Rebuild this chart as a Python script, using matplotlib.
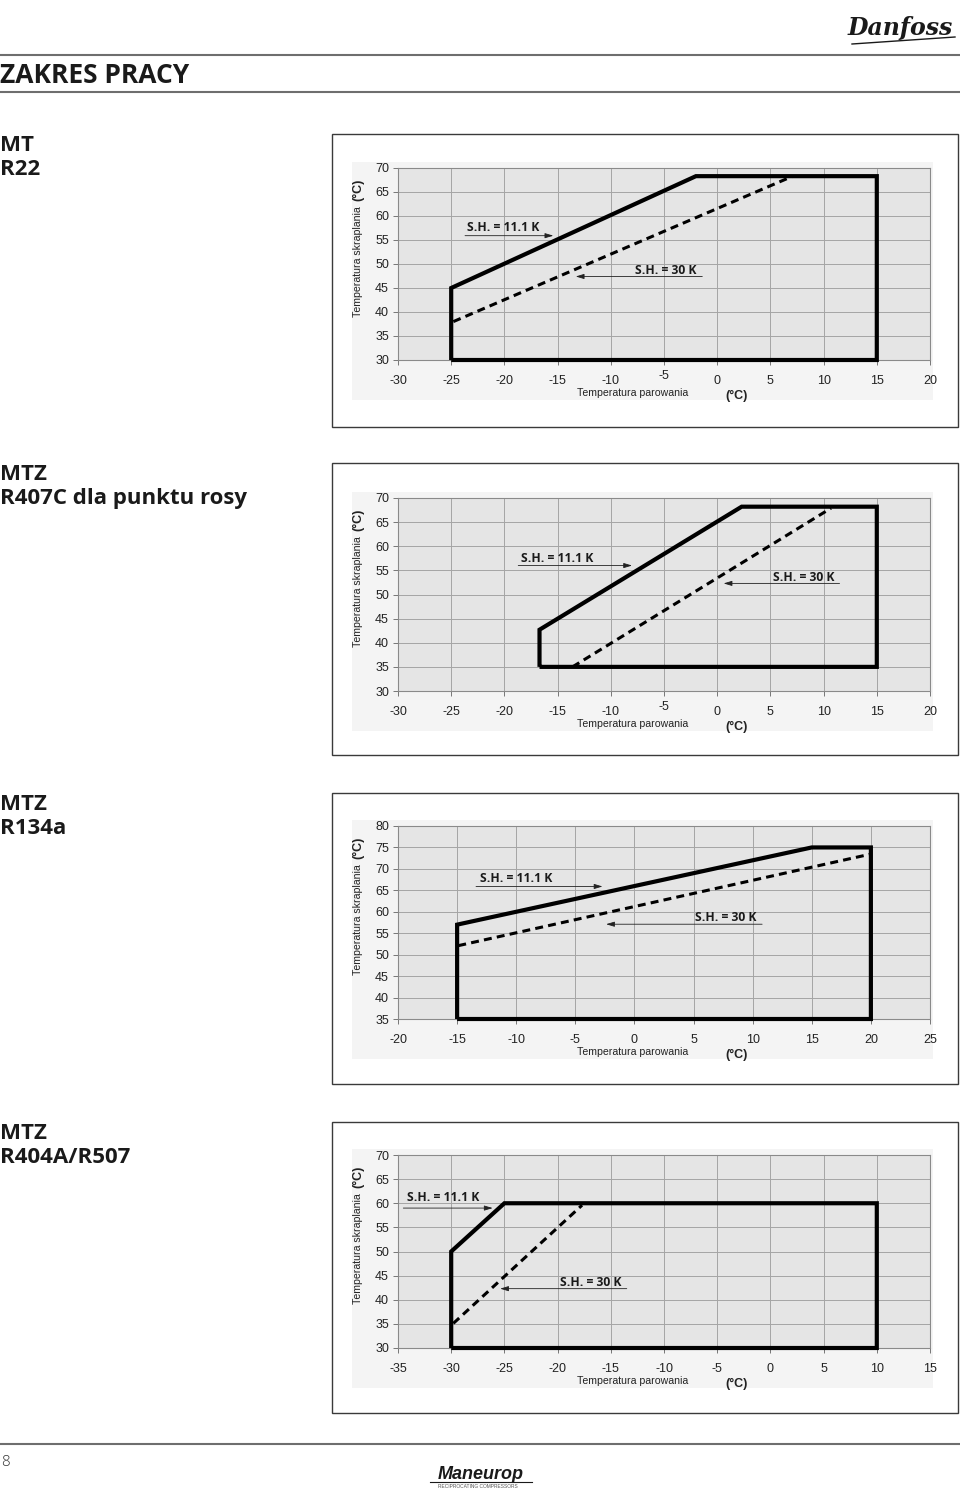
import matplotlib
matplotlib.use("Agg")
import matplotlib.pyplot as plt
from matplotlib.patches import Rectangle
from matplotlib.lines import Line2D
from matplotlib.transforms import ScaledTranslation

# ---------------- data ----------------
titles = [("MT", "R22"), ("MTZ", "R407C dla punktu rosy"), ("MTZ", "R134a"), ("MTZ", "R404A/R507")]

r22_xticks = [-30, -25, -20, -15, -10, -5, 0, 5, 10, 15, 20]
r22_yticks = [30, 35, 40, 45, 50, 55, 60, 65, 70]
r22_solid_x = [-25, -25, -2, 15, 15, -25]
r22_solid_y = [30, 45, 68.3, 68.3, 30, 30]
r22_dash_x = [-24.8, 7.0]
r22_dash_y = [38.0, 68.2]

r407c_xticks = [-30, -25, -20, -15, -10, -5, 0, 5, 10, 15, 20]
r407c_yticks = [30, 35, 40, 45, 50, 55, 60, 65, 70]
r407c_solid_x = [-16.7, -16.7, 2.3, 15, 15, -16.7]
r407c_solid_y = [35, 42.7, 68.2, 68.2, 35, 35]
r407c_dash_x = [-13.6, 10.7]
r407c_dash_y = [35.0, 67.9]

r134a_xticks = [-20, -15, -10, -5, 0, 5, 10, 15, 20, 25]
r134a_yticks = [35, 40, 45, 50, 55, 60, 65, 70, 75, 80]
r134a_solid_x = [-15, -15, 15, 20, 20, -15]
r134a_solid_y = [35, 57, 75, 75, 35, 35]
r134a_dash_x = [-14.9, 19.9]
r134a_dash_y = [52.1, 73.4]

r404a_xticks = [-35, -30, -25, -20, -15, -10, -5, 0, 5, 10, 15]
r404a_yticks = [30, 35, 40, 45, 50, 55, 60, 65, 70]
r404a_solid_x = [-30, -30, -25, 10, 10, -30]
r404a_solid_y = [30, 50, 60, 60, 30, 30]
r404a_dash_x = [-29.8, -17.7]
r404a_dash_y = [35.1, 59.6]

label_sh1 = "S.H. = 11.1 K"
label_sh2 = "S.H. = 30 K"

# ---------------- layout ----------------
W, H = 960, 1490
fig = plt.figure(figsize=(W / 100, H / 100), dpi=100)
fig.patch.set_facecolor("white")

def fx(x):
    return x / W

def fy(y):
    return 1 - y / H

AX_L, AX_R = 398, 930
panels = [
    dict(ax_top=168, ax_bot=360, frame=(332, 134, 958, 427),
         xt=r22_xticks, yt=r22_yticks, sx=r22_solid_x, sy=r22_solid_y,
         dx=r22_dash_x, dy=r22_dash_y, raise5=True,
         t1=(-23.5, 57.6), a1=((-23.7, 55.9), (-15.4, 55.9)),
         t2=(-7.7, 48.6), a2=((-1.4, 47.4), (-13.3, 47.4))),
    dict(ax_top=498, ax_bot=691, frame=(332, 463, 958, 755),
         xt=r407c_xticks, yt=r407c_yticks, sx=r407c_solid_x, sy=r407c_solid_y,
         dx=r407c_dash_x, dy=r407c_dash_y, raise5=True,
         t1=(-18.4, 57.4), a1=((-18.7, 56.0), (-8.0, 56.0)),
         t2=(5.2, 53.5), a2=((11.5, 52.3), (0.6, 52.3))),
    dict(ax_top=826, ax_bot=1019, frame=(332, 793, 958, 1084),
         xt=r134a_xticks, yt=r134a_yticks, sx=r134a_solid_x, sy=r134a_solid_y,
         dx=r134a_dash_x, dy=r134a_dash_y, raise5=False,
         t1=(-13.1, 67.7), a1=((-13.4, 65.9), (-2.7, 65.9)),
         t2=(5.1, 58.6), a2=((10.8, 57.1), (-2.4, 57.1))),
    dict(ax_top=1155, ax_bot=1348, frame=(332, 1122, 958, 1413),
         xt=r404a_xticks, yt=r404a_yticks, sx=r404a_solid_x, sy=r404a_solid_y,
         dx=r404a_dash_x, dy=r404a_dash_y, raise5=False,
         t1=(-34.2, 61.1), a1=((-34.5, 59.0), (-26.1, 59.0)),
         t2=(-19.8, 43.6), a2=((-13.5, 42.3), (-25.4, 42.3))),
]

ARIAL = "Liberation Sans"
MYRIAD = "Open Sans"

# header
for yy in (55, 92):
    fig.add_artist(Line2D([0, 1], [fy(yy), fy(yy)], color="#6e6e6e", lw=1.5))
fig.text(fx(0), fy(83), "ZAKRES PRACY", fontsize=19, fontweight="bold",
         family=MYRIAD, color="#1a1a1a", va="baseline", ha="left")
fig.text(fx(900), fy(28), "Danfoss", fontsize=17, fontstyle="italic", fontweight="bold",
         family="DejaVu Serif", color="#1a1a1a", va="center", ha="center")
fig.add_artist(Line2D([fx(852), fx(955)], [fy(44), fy(37)], color="#1a1a1a", lw=1.0))

# footer
fig.add_artist(Line2D([0, 1], [fy(1444), fy(1444)], color="#6e6e6e", lw=1.5))
fig.text(fx(1), fy(1462), "8", fontsize=11, family=MYRIAD, fontweight="light",
         color="#333333", va="center", ha="left")
fig.text(fx(481), fy(1479), "Maneurop", fontsize=13, fontstyle="italic", fontweight="bold",
         family=ARIAL, color="#1a1a1a", va="baseline", ha="center")
fig.add_artist(Line2D([fx(430), fx(532)], [fy(1482), fy(1482)], color="#1a1a1a", lw=0.8))
fig.text(fx(478), fy(1487), "RECIPROCATING COMPRESSORS", fontsize=3.5, family=ARIAL,
         color="#555555", va="center", ha="center")

for p, (tl1, tl2) in zip(panels, titles):
    fl, ft, fr, fb = p["frame"]
    # outer frame
    fig.add_artist(Rectangle((fx(fl), fy(fb)), (fr - fl) / W, (fb - ft) / H,
                             fill=False, edgecolor="#3a3a3a", lw=1.0))
    # light background behind the chart
    fig.add_artist(Rectangle((fx(AX_L - 46), fy(p["ax_bot"] + 40)),
                             (AX_R - AX_L + 49) / W, (p["ax_bot"] - p["ax_top"] + 46) / H,
                             facecolor="#f4f4f4", edgecolor="none", zorder=0))
    # left titles
    fig.text(fx(0), fy(ft + 17), tl1, fontsize=16, fontweight="bold", family=MYRIAD,
             color="#1a1a1a", va="baseline", ha="left")
    fig.text(fx(0), fy(ft + 41), tl2, fontsize=16, fontweight="bold", family=MYRIAD,
             color="#1a1a1a", va="baseline", ha="left")

    ax = fig.add_axes([fx(AX_L), fy(p["ax_bot"]), (AX_R - AX_L) / W,
                       (p["ax_bot"] - p["ax_top"]) / H])
    ax.set_facecolor("#e5e5e5")
    ax.set_xlim(p["xt"][0], p["xt"][-1])
    ax.set_ylim(p["yt"][0], p["yt"][-1])
    ax.set_xticks(p["xt"])
    ax.set_yticks(p["yt"])
    ax.set_xticklabels([str(v) for v in p["xt"]], family=ARIAL, fontsize=9, color="#222222")
    ax.set_yticklabels([str(v) for v in p["yt"]], family=ARIAL, fontsize=9, color="#222222")
    ax.grid(True, color="#a4a4a4", lw=0.7)
    ax.set_axisbelow(True)
    for s in ax.spines.values():
        s.set_color("#8a8a8a")
        s.set_linewidth(0.8)
    ax.tick_params(axis="x", length=3.5, width=0.7, color="#777777", pad=7)
    ax.tick_params(axis="y", length=3.5, width=0.7, color="#777777", pad=3)
    if p["raise5"]:
        for lab, v in zip(ax.get_xticklabels(), p["xt"]):
            if v == -5:
                lab.set_transform(lab.get_transform() +
                                  ScaledTranslation(0, 3 / 72, fig.dpi_scale_trans))

    ax.plot(p["sx"], p["sy"], color="black", lw=3.0, solid_joinstyle="miter",
            solid_capstyle="butt", clip_on=False, zorder=5)
    ax.plot(p["dx"], p["dy"], color="black", lw=2.2, dashes=(2.6, 1.7), clip_on=False, zorder=5)

    ax.text(p["t1"][0], p["t1"][1], label_sh1, fontsize=8.7, fontweight="bold", family=MYRIAD,
            color="#1a1a1a", ha="left", va="center", zorder=6)
    ax.text(p["t2"][0], p["t2"][1], label_sh2, fontsize=8.7, fontweight="bold", family=MYRIAD,
            color="#1a1a1a", ha="left", va="center", zorder=6)
    for (a0, a1) in (p["a1"], p["a2"]):
        ax.annotate("", xy=a1, xytext=a0,
                    arrowprops=dict(arrowstyle="-|>,head_length=0.5,head_width=0.15",
                                    lw=0.6, color="#222222", shrinkA=0, shrinkB=0), zorder=6)

    # axis labels (as figure texts at pixel positions)
    fig.text(fx(AX_L + 235), fy(p["ax_bot"] + 33), "Temperatura parowania", family=ARIAL,
             fontsize=7.6, color="#222222", ha="center", va="center")
    fig.text(fx(AX_L + 339), fy(p["ax_bot"] + 36), "(°C)", family=ARIAL, fontweight="bold",
             fontsize=9, color="#222222", ha="center", va="center")
    fig.text(fx(AX_L - 40), fy(p["ax_top"] + 94), "Temperatura skraplania", family=ARIAL,
             fontsize=7.6, color="#222222", ha="center", va="center", rotation=90)
    fig.text(fx(AX_L - 40), fy(p["ax_top"] + 22), "(°C)", family=ARIAL, fontweight="bold",
             fontsize=9, color="#222222", ha="center", va="center", rotation=90)

fig.savefig("out.png", dpi=100)
